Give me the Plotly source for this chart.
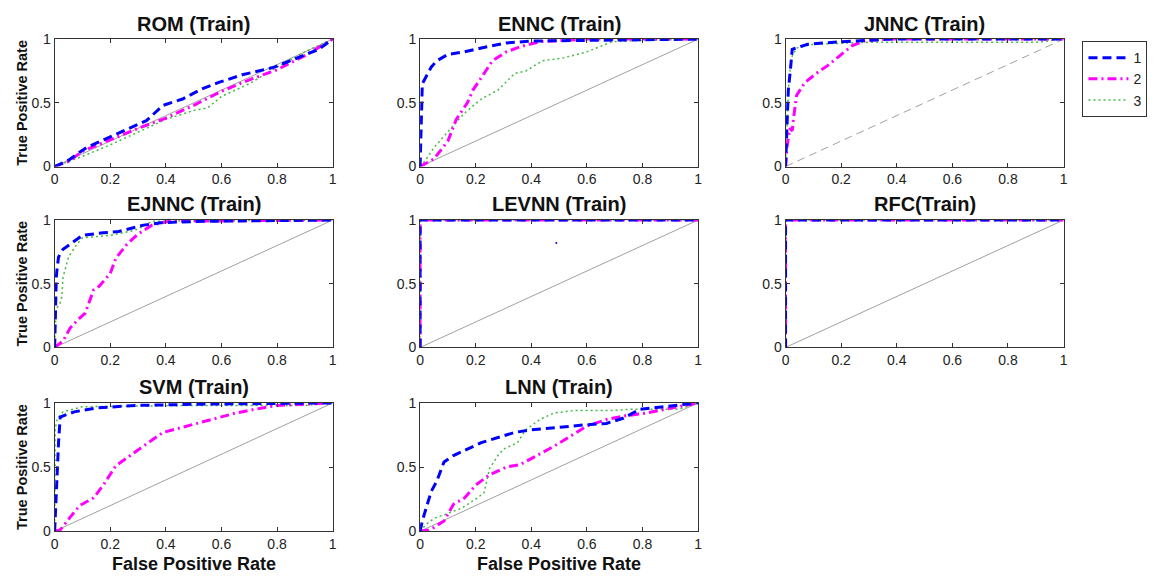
import plotly.graph_objects as go

W, H = 1153, 584

titles = ["ROM (Train)", "ENNC (Train)", "JNNC (Train)",
          "EJNNC (Train)", "LEVNN (Train)", "RFC(Train)",
          "SVM (Train)", "LNN (Train)"]
class_names = ["1", "2", "3"]
x_ticks = [0, 0.2, 0.4, 0.6, 0.8, 1]
x_tick_text = ["0", "0.2", "0.4", "0.6", "0.8", "1"]
y_ticks = [0, 0.5, 1]
y_tick_text = ["0", "0.5", "1"]

# ---- ROC data (FPR, TPR) per model and class ----
rom_fpr_1 = [0, 0.05, 0.115, 0.21, 0.27, 0.33, 0.39, 0.46, 0.53, 0.59, 0.675, 0.79, 0.87, 0.95, 1]
rom_tpr_1 = [0, 0.05, 0.15, 0.24, 0.30, 0.36, 0.48, 0.53, 0.61, 0.66, 0.72, 0.78, 0.85, 0.92, 1]
rom_fpr_2 = [0, 0.05, 0.1, 0.2, 0.3, 0.4, 0.5, 0.6, 0.7, 0.8, 0.9, 1]
rom_tpr_2 = [0, 0.04, 0.12, 0.21, 0.30, 0.38, 0.48, 0.59, 0.68, 0.76, 0.87, 1]
rom_fpr_3 = [0, 0.1, 0.2, 0.3, 0.4, 0.5, 0.55, 0.6, 0.7, 0.8, 0.9, 1]
rom_tpr_3 = [0, 0.08, 0.17, 0.27, 0.37, 0.44, 0.46, 0.55, 0.65, 0.78, 0.9, 1]

ennc_fpr_1 = [0, 0.003, 0.005, 0.008, 0.04, 0.06, 0.1, 0.16, 0.22, 0.31, 0.4, 0.57, 1]
ennc_tpr_1 = [0, 0.3, 0.5, 0.65, 0.78, 0.83, 0.88, 0.9, 0.93, 0.97, 0.985, 0.99, 1]
ennc_fpr_2 = [0, 0.05, 0.1, 0.13, 0.17, 0.19, 0.23, 0.26, 0.31, 0.36, 0.43, 0.6, 1]
ennc_tpr_2 = [0, 0.06, 0.2, 0.37, 0.5, 0.6, 0.73, 0.83, 0.9, 0.94, 0.98, 1, 1]
ennc_fpr_3 = [0, 0.02, 0.05, 0.1, 0.16, 0.22, 0.28, 0.34, 0.38, 0.44, 0.51, 0.6, 0.69, 0.81, 1]
ennc_tpr_3 = [0, 0.05, 0.15, 0.27, 0.42, 0.53, 0.6, 0.73, 0.75, 0.83, 0.85, 0.9, 0.98, 0.99, 1]

jnnc_fpr_1 = [0, 0.005, 0.01, 0.018, 0.024, 0.08, 0.2, 0.38, 1]
jnnc_tpr_1 = [0, 0.4, 0.6, 0.77, 0.92, 0.96, 0.98, 1, 1]
jnnc_fpr_2 = [0, 0.005, 0.015, 0.024, 0.03, 0.04, 0.07, 0.11, 0.15, 0.2, 0.24, 0.29, 0.38, 1]
jnnc_tpr_2 = [0, 0.15, 0.3, 0.28, 0.4, 0.56, 0.66, 0.73, 0.79, 0.88, 0.95, 0.99, 1, 1]
jnnc_fpr_3 = [0, 0.01, 0.02, 0.04, 0.1, 0.3, 0.6, 0.9, 1]
jnnc_tpr_3 = [0, 0.6, 0.85, 0.93, 0.96, 0.975, 0.975, 0.975, 1]

ejnnc_fpr_1 = [0, 0.003, 0.006, 0.008, 0.014, 0.03, 0.07, 0.1, 0.175, 0.23, 0.32, 0.39, 0.53, 1]
ejnnc_tpr_1 = [0, 0.35, 0.55, 0.6, 0.71, 0.77, 0.83, 0.88, 0.9, 0.91, 0.96, 0.98, 0.99, 1]
ejnnc_fpr_2 = [0, 0.03, 0.055, 0.08, 0.11, 0.14, 0.16, 0.2, 0.22, 0.26, 0.3, 0.35, 0.41, 1]
ejnnc_tpr_2 = [0, 0.05, 0.15, 0.21, 0.27, 0.45, 0.48, 0.58, 0.7, 0.81, 0.89, 0.96, 0.99, 1]
ejnnc_fpr_3 = [0, 0.005, 0.02, 0.026, 0.03, 0.05, 0.08, 0.1, 0.2, 0.29, 0.35, 1]
ejnnc_tpr_3 = [0, 0.3, 0.35, 0.4, 0.55, 0.71, 0.81, 0.86, 0.88, 0.92, 0.99, 1]

levnn_fpr_1 = [0, 0, 1]
levnn_tpr_1 = [0, 1, 1]
levnn_fpr_2 = [0, 0, 1]
levnn_tpr_2 = [0, 1, 1]
levnn_fpr_3 = [0, 0, 1]
levnn_tpr_3 = [0, 1, 1]
levnn_stray_fpr = [0.49]
levnn_stray_tpr = [0.82]

rfc_fpr_1 = [0, 0, 1]
rfc_tpr_1 = [0, 1, 1]
rfc_fpr_2 = [0, 0, 1]
rfc_tpr_2 = [0, 1, 1]
rfc_fpr_3 = [0, 0, 1]
rfc_tpr_3 = [0, 1, 1]

svm_fpr_1 = [0, 0.005, 0.01, 0.014, 0.02, 0.07, 0.15, 0.29, 0.53, 1]
svm_tpr_1 = [0, 0.3, 0.6, 0.69, 0.89, 0.93, 0.96, 0.98, 0.99, 1]
svm_fpr_2 = [0, 0.02, 0.056, 0.09, 0.14, 0.175, 0.22, 0.27, 0.33, 0.39, 0.44, 0.51, 0.58, 0.65, 0.72, 0.8, 1]
svm_tpr_2 = [0, 0.01, 0.11, 0.2, 0.26, 0.36, 0.51, 0.59, 0.68, 0.77, 0.8, 0.84, 0.88, 0.92, 0.95, 0.98, 1]
svm_fpr_3 = [0, 0.002, 0.01, 0.03, 0.1, 0.5, 0.9, 1]
svm_tpr_3 = [0, 0.8, 0.88, 0.93, 0.97, 0.98, 0.98, 1]

lnn_fpr_1 = [0, 0.008, 0.026, 0.04, 0.06, 0.086, 0.12, 0.17, 0.22, 0.28, 0.34, 0.4, 0.45, 0.53, 0.6, 0.67, 0.73, 0.79, 0.87, 0.93, 1]
lnn_tpr_1 = [0, 0.08, 0.21, 0.31, 0.39, 0.54, 0.59, 0.64, 0.69, 0.73, 0.77, 0.79, 0.8, 0.82, 0.83, 0.84, 0.88, 0.95, 0.97, 0.98, 1]
lnn_fpr_2 = [0, 0.03, 0.05, 0.086, 0.12, 0.16, 0.2, 0.25, 0.31, 0.36, 0.42, 0.48, 0.54, 0.6, 0.67, 0.74, 0.81, 0.88, 0.95, 1]
lnn_tpr_2 = [0, 0.01, 0.03, 0.08, 0.21, 0.26, 0.36, 0.44, 0.5, 0.52, 0.59, 0.66, 0.74, 0.82, 0.87, 0.9, 0.92, 0.95, 0.98, 1]
lnn_fpr_3 = [0, 0.02, 0.05, 0.1, 0.15, 0.2, 0.23, 0.25, 0.28, 0.3, 0.35, 0.38, 0.43, 0.48, 0.55, 0.69, 0.75, 0.93, 1]
lnn_tpr_3 = [0, 0.05, 0.1, 0.14, 0.18, 0.25, 0.3, 0.49, 0.59, 0.64, 0.69, 0.79, 0.87, 0.92, 0.94, 0.94, 0.95, 0.95, 1]

models = [
    [(rom_fpr_1, rom_tpr_1), (rom_fpr_2, rom_tpr_2), (rom_fpr_3, rom_tpr_3)],
    [(ennc_fpr_1, ennc_tpr_1), (ennc_fpr_2, ennc_tpr_2), (ennc_fpr_3, ennc_tpr_3)],
    [(jnnc_fpr_1, jnnc_tpr_1), (jnnc_fpr_2, jnnc_tpr_2), (jnnc_fpr_3, jnnc_tpr_3)],
    [(ejnnc_fpr_1, ejnnc_tpr_1), (ejnnc_fpr_2, ejnnc_tpr_2), (ejnnc_fpr_3, ejnnc_tpr_3)],
    [(levnn_fpr_1, levnn_tpr_1), (levnn_fpr_2, levnn_tpr_2), (levnn_fpr_3, levnn_tpr_3)],
    [(rfc_fpr_1, rfc_tpr_1), (rfc_fpr_2, rfc_tpr_2), (rfc_fpr_3, rfc_tpr_3)],
    [(svm_fpr_1, svm_tpr_1), (svm_fpr_2, svm_tpr_2), (svm_fpr_3, svm_tpr_3)],
    [(lnn_fpr_1, lnn_tpr_1), (lnn_fpr_2, lnn_tpr_2), (lnn_fpr_3, lnn_tpr_3)],
]
diag_x = [0, 1]
diag_y = [0, 1]

# ---- styling ----
class_styles = [
    dict(color="#0000FF", width=3, dash="9px,5px"),
    dict(color="#FF00FF", width=3, dash="9px,4px,2px,4px"),
    dict(color="#44BB44", width=1.5, dash="2px,3px"),
]
FONT = "Arial, 'Liberation Sans', sans-serif"

col_px = [(51, 331), (419, 699), (787, 1067)]
row_px = [(32, 163), (218, 349), (406, 538)]

fig = go.Figure()
layout = dict(
    width=W, height=H, autosize=False,
    margin=dict(l=0, r=0, t=0, b=0),
    paper_bgcolor="white", plot_bgcolor="white",
    font=dict(family=FONT, size=14, color="#222"),
    showlegend=True,
    legend=dict(x=1086 / W, y=1 - 34 / H, xanchor="left", yanchor="top",
                bordercolor="#333", borderwidth=1, bgcolor="white",
                font=dict(size=14, family=FONT, color="#222"), tracegroupgap=0,
                itemwidth=40, entrywidth=62, entrywidthmode="pixels"),
)
annotations = []

for i, curves in enumerate(models):
    r, c = divmod(i, 3)
    n = "" if i == 0 else str(i + 1)
    xa, ya = "x" + n, "y" + n
    x0, x1 = col_px[c]
    y0, y1 = row_px[r]
    axis_common = dict(range=[0, 1], showgrid=False, zeroline=False,
                       showline=True, linecolor="#333", linewidth=1,
                       mirror="ticks", ticks="inside", ticklen=4,
                       tickcolor="#333", fixedrange=True,
                       tickfont=dict(size=14, family=FONT, color="#222"))
    layout["xaxis" + n] = dict(axis_common, domain=[x0 / W, x1 / W],
                               anchor=ya, tickvals=x_ticks, ticktext=x_tick_text)
    layout["yaxis" + n] = dict(axis_common, domain=[1 - y1 / H, 1 - y0 / H],
                               anchor=xa, tickvals=y_ticks, ticktext=y_tick_text)
    # diagonal reference
    fig.add_trace(go.Scatter(x=diag_x, y=diag_y, xaxis=xa, yaxis=ya, mode="lines",
                             line=dict(color="#A0A0A0", width=1,
                                       dash="8px,5px" if i == 2 else "solid"),
                             showlegend=False, hoverinfo="skip"))
    for k, (fx, ty) in enumerate(curves[::-1]):
        kk = 2 - k
        fig.add_trace(go.Scatter(x=fx, y=ty, xaxis=xa, yaxis=ya, mode="lines",
                                 line=class_styles[kk], name=class_names[kk],
                                 legendgroup=class_names[kk], legendrank=kk,
                                 showlegend=(i == 2), cliponaxis=False))
    if i == 4:
        fig.add_trace(go.Scatter(x=levnn_stray_fpr, y=levnn_stray_tpr, xaxis=xa, yaxis=ya,
                                 mode="markers", marker=dict(color="#0000FF", size=2),
                                 showlegend=False, hoverinfo="skip"))
    annotations.append(dict(text="<b>%s</b>" % titles[i], xref="paper", yref="paper",
                            x=(x0 + x1) / 2 / W, y=1 - (y0 - 16) / H,
                            xanchor="center", yanchor="middle", showarrow=False,
                            font=dict(size=20, family=FONT, color="#111")))

for r in range(3):
    y0, y1 = row_px[r]
    annotations.append(dict(text="<b>True Positive Rate</b>", xref="paper", yref="paper",
                            x=18 / W, y=1 - (y0 + y1) / 2 / H, textangle=-90,
                            xanchor="center", yanchor="middle", showarrow=False,
                            font=dict(size=14.5, family=FONT, color="#111")))
for c in range(2):
    x0, x1 = col_px[c]
    annotations.append(dict(text="<b>False Positive Rate</b>", xref="paper", yref="paper",
                            x=(x0 + x1) / 2 / W, y=1 - 572 / H,
                            xanchor="center", yanchor="middle", showarrow=False,
                            font=dict(size=18, family=FONT, color="#111")))

layout["annotations"] = annotations
fig.update_layout(**layout)
fig.write_html("out.html",
               config={"displayModeBar": False, "responsive": False},
               post_script="document.body.style.margin='0px';document.body.style.overflow='hidden';")
